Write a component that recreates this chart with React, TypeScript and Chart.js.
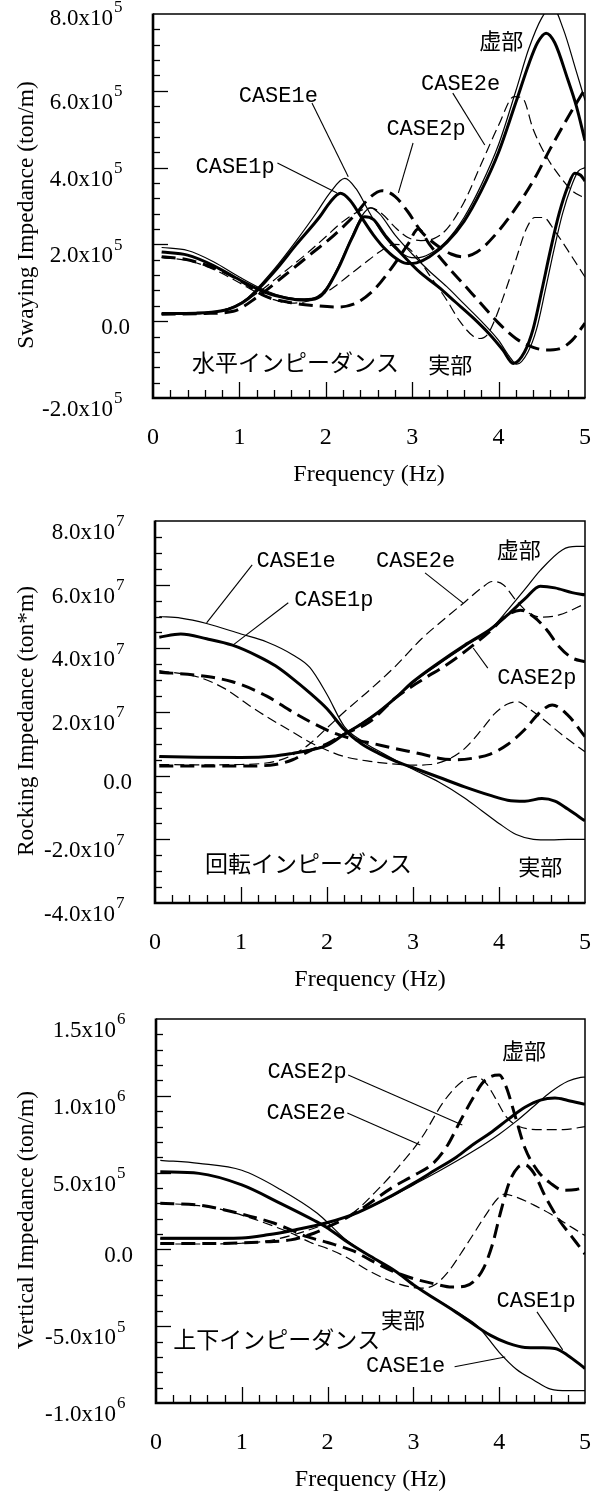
import React, { useEffect, useRef } from "react";
import { Chart, registerables } from "chart.js";

Chart.register(...registerables);

type Pt = [number, number];

// ---------------- Frequency axis ----------------
const freqMin = 0;
const freqMax = 5;
const freqMajor = [0, 1, 2, 3, 4, 5];
const freqMinorStep = 0.2;

// ---------------- Swaying impedance (x10^5 ton/m) ----------------
const sway1eRe: Pt[] = [[0.1,1.92],[0.4,1.84],[0.7,1.55],[1.0,1.15],[1.3,0.8],[1.55,0.62],[1.75,0.58],[1.9,0.64],[2.0,0.85],[2.15,1.45],[2.3,2.2],[2.42,2.75],[2.52,2.95],[2.62,2.8],[2.8,2.25],[3.0,1.75],[3.2,1.3],[3.4,0.9],[3.6,0.45],[3.8,0.0],[4.0,-0.5],[4.12,-0.9],[4.21,-1.12],[4.34,-0.8],[4.44,-0.2],[4.54,0.8],[4.64,1.85],[4.74,2.8],[4.84,3.5],[4.92,3.9],[5.0,4.0]];
const sway1eIm: Pt[] = [[0.1,0.2],[0.5,0.21],[0.8,0.28],[0.95,0.4],[1.1,0.62],[1.4,1.35],[1.66,2.1],[1.9,2.85],[2.05,3.35],[2.22,3.72],[2.35,3.45],[2.5,2.85],[2.65,2.3],[2.8,1.9],[2.95,1.68],[3.05,1.65],[3.2,1.75],[3.4,2.1],[3.6,2.7],[3.8,3.55],[4.0,4.6],[4.2,6.0],[4.35,7.1],[4.5,7.9],[4.62,8.2],[4.75,7.6],[4.9,6.5],[5.0,5.75]];
const sway1pRe: Pt[] = [[0.1,1.8],[0.4,1.72],[0.7,1.45],[1.0,1.08],[1.3,0.75],[1.55,0.6],[1.75,0.55],[1.9,0.6],[2.0,0.8],[2.15,1.4],[2.3,2.15],[2.45,2.72],[2.55,2.65],[2.7,2.2],[2.9,1.7],[3.1,1.25],[3.3,0.9],[3.5,0.5],[3.7,0.1],[3.9,-0.35],[4.05,-0.75],[4.17,-1.1],[4.3,-0.8],[4.4,-0.2],[4.5,0.8],[4.6,1.85],[4.7,2.8],[4.8,3.5],[4.88,3.85],[4.95,3.8],[5.0,3.65]];
const sway1pIm: Pt[] = [[0.1,0.2],[0.5,0.21],[0.8,0.27],[0.95,0.38],[1.1,0.58],[1.4,1.28],[1.66,2.0],[1.93,2.72],[2.05,3.1],[2.17,3.33],[2.28,3.15],[2.4,2.75],[2.55,2.25],[2.7,1.85],[2.85,1.58],[2.95,1.5],[3.05,1.52],[3.2,1.68],[3.4,2.05],[3.6,2.6],[3.8,3.4],[4.0,4.4],[4.2,5.7],[4.35,6.7],[4.45,7.25],[4.55,7.5],[4.65,7.25],[4.8,6.3],[4.9,5.6],[5.0,4.7]];
const sway2eRe: Pt[] = [[0.1,1.66],[0.4,1.58],[0.7,1.35],[1.0,1.0],[1.2,0.75],[1.4,0.56],[1.6,0.47],[1.75,0.5],[1.9,0.62],[2.1,0.9],[2.3,1.25],[2.5,1.6],[2.65,1.85],[2.8,2.0],[2.9,1.97],[3.05,1.7],[3.2,1.2],[3.4,0.55],[3.55,0.0],[3.7,-0.38],[3.78,-0.45],[3.87,-0.35],[3.95,0.0],[4.05,0.6],[4.2,1.6],[4.32,2.4],[4.42,2.7],[4.52,2.7],[4.65,2.35],[4.8,1.85],[5.0,1.15]];
const sway2eIm: Pt[] = [[0.1,0.18],[0.5,0.19],[0.8,0.28],[1.0,0.45],[1.2,0.72],[1.5,1.25],[1.8,1.8],[2.0,2.2],[2.2,2.6],[2.4,2.88],[2.52,2.95],[2.65,2.8],[2.8,2.45],[2.95,2.18],[3.1,2.1],[3.25,2.15],[3.4,2.4],[3.6,3.1],[3.8,4.1],[4.0,5.1],[4.18,5.85],[4.28,5.8],[4.4,5.0],[4.55,4.3],[4.7,3.8],[4.85,3.4],[5.0,3.2]];
const sway2pRe: Pt[] = [[0.1,1.68],[0.4,1.6],[0.8,1.3],[1.05,1.0],[1.3,0.65],[1.6,0.48],[1.9,0.4],[2.15,0.37],[2.35,0.47],[2.55,0.8],[2.75,1.35],[2.95,2.0],[3.07,2.4],[3.2,2.0],[3.4,1.45],[3.6,0.95],[3.8,0.45],[4.0,-0.05],[4.2,-0.45],[4.4,-0.68],[4.55,-0.75],[4.7,-0.72],[4.85,-0.5],[5.0,-0.05]];
const sway2pIm: Pt[] = [[0.1,0.18],[0.6,0.2],[0.93,0.26],[1.2,0.62],[1.5,1.15],[1.8,1.7],[2.1,2.25],[2.35,2.8],[2.5,3.2],[2.65,3.4],[2.8,3.25],[2.95,2.85],[3.1,2.35],[3.3,1.95],[3.45,1.75],[3.58,1.68],[3.75,1.8],[4.0,2.35],[4.2,2.95],[4.4,3.65],[4.6,4.5],[4.8,5.3],[5.0,6.05]];
const swayTicks = [8, 6, 4, 2, 0, -2];
const swayTickText = ["8.0", "6.0", "4.0", "2.0", "0.0", "-2.0"];
const swayTickExp = ["5", "5", "5", "5", "", "5"];

// ---------------- Rocking impedance (x10^7 ton*m) ----------------
const rock1eRe: Pt[] = [[0.05,5.0],[0.3,4.95],[0.6,4.78],[1.0,4.45],[1.3,4.2],[1.6,3.8],[1.8,3.4],[2.0,2.55],[2.2,1.55],[2.4,1.1],[2.65,0.7],[3.0,0.2],[3.3,-0.2],[3.6,-0.7],[3.8,-1.1],[4.0,-1.5],[4.2,-1.85],[4.4,-2.0],[4.6,-2.02],[4.8,-2.0],[5.0,-2.0]];
const rock1eIm: Pt[] = [[0.05,0.58],[0.5,0.57],[1.0,0.57],[1.4,0.62],[1.6,0.7],[1.8,0.82],[2.0,0.98],[2.2,1.32],[2.4,1.65],[2.6,2.02],[2.8,2.45],[3.0,2.92],[3.3,3.5],[3.6,4.05],[3.9,4.6],[4.1,5.2],[4.3,5.85],[4.48,6.45],[4.74,7.1],[4.9,7.2],[5.0,7.2]];
const rock1pRe: Pt[] = [[0.05,4.35],[0.3,4.45],[0.6,4.3],[0.9,4.1],[1.2,3.75],[1.4,3.45],[1.6,3.05],[1.8,2.6],[2.0,2.1],[2.2,1.45],[2.4,1.0],[2.6,0.7],[2.8,0.45],[3.0,0.25],[3.3,-0.05],[3.6,-0.35],[3.9,-0.62],[4.1,-0.77],[4.3,-0.8],[4.5,-0.72],[4.65,-0.8],[4.8,-1.05],[5.0,-1.42]];
const rock1pIm: Pt[] = [[0.05,0.6],[0.5,0.58],[1.0,0.57],[1.4,0.62],[1.6,0.7],[1.8,0.8],[2.0,0.95],[2.2,1.3],[2.4,1.62],[2.6,2.0],[2.8,2.45],[3.0,2.95],[3.3,3.55],[3.6,4.1],[3.9,4.6],[4.1,5.05],[4.3,5.55],[4.48,5.95],[4.65,5.9],[4.85,5.75],[5.0,5.68]];
const rock2eRe: Pt[] = [[0.05,3.3],[0.5,3.1],[0.8,2.75],[1.1,2.2],[1.3,1.85],[1.55,1.45],[1.8,1.05],[2.0,0.8],[2.2,0.6],[2.5,0.45],[2.8,0.36],[3.0,0.33],[3.2,0.35],[3.4,0.5],[3.6,0.85],[3.8,1.45],[3.95,1.95],[4.1,2.25],[4.22,2.32],[4.35,2.1],[4.5,1.8],[4.75,1.25],[5.0,0.75]];
const rock2eIm: Pt[] = [[0.05,0.35],[0.5,0.34],[1.0,0.35],[1.4,0.45],[1.6,0.65],[1.8,1.0],[2.0,1.5],[2.2,2.0],[2.5,2.7],[2.8,3.45],[3.1,4.3],[3.4,5.0],[3.6,5.45],[3.8,5.9],[3.92,6.1],[4.05,6.0],[4.2,5.5],[4.35,5.1],[4.5,4.98],[4.7,5.05],[5.0,5.4]];
const rock2pRe: Pt[] = [[0.05,3.25],[0.5,3.15],[0.9,2.95],[1.3,2.5],[1.6,2.0],[1.8,1.7],[2.07,1.35],[2.3,1.15],[2.55,1.0],[2.8,0.85],[3.1,0.68],[3.3,0.55],[3.5,0.5],[3.7,0.55],[3.9,0.68],[4.1,0.98],[4.3,1.45],[4.48,2.0],[4.62,2.22],[4.8,1.9],[5.0,1.23]];
const rock2pIm: Pt[] = [[0.05,0.3],[0.5,0.3],[1.0,0.3],[1.4,0.35],[1.6,0.5],[1.8,0.78],[2.0,1.0],[2.2,1.3],[2.5,1.7],[2.8,2.45],[3.1,3.0],[3.4,3.5],[3.7,4.1],[3.9,4.55],[4.1,5.05],[4.25,5.2],[4.4,5.0],[4.55,4.6],[4.7,4.05],[4.85,3.7],[5.0,3.58]];
const rockTicks = [8, 6, 4, 2, 0, -2, -4];
const rockTickText = ["8.0", "6.0", "4.0", "2.0", "0.0", "-2.0", "-4.0"];
const rockTickExp = ["7", "7", "7", "7", "", "7", "7"];

// ---------------- Vertical impedance (x10^5 ton/m) ----------------
const vert1eRe: Pt[] = [[0.05,5.8],[0.5,5.6],[1.0,5.15],[1.45,3.9],[1.88,2.35],[2.0,1.75],[2.2,0.7],[2.5,-0.45],[2.8,-1.45],[3.0,-2.3],[3.5,-4.05],[3.75,-5.0],[4.0,-6.7],[4.2,-7.8],[4.4,-8.5],[4.6,-9.1],[4.8,-9.2],[5.0,-9.2]];
const vert1eIm: Pt[] = [[0.05,0.68],[0.5,0.68],[1.0,0.72],[1.3,0.92],[1.6,1.22],[2.0,1.75],[2.35,2.4],[2.7,3.3],[3.0,4.2],[3.3,5.1],[3.7,6.4],[4.0,7.5],[4.2,8.35],[4.4,9.3],[4.6,10.25],[4.8,10.95],[4.95,11.2],[5.0,11.22]];
const vert1pRe: Pt[] = [[0.05,5.05],[0.5,4.95],[1.0,4.2],[1.45,3.0],[1.84,1.9],[2.0,1.4],[2.2,0.6],[2.5,-0.45],[2.8,-1.45],[3.0,-2.3],[3.5,-4.1],[3.9,-5.6],[4.1,-6.1],[4.3,-6.38],[4.5,-6.4],[4.65,-6.45],[4.8,-6.9],[5.0,-7.75]];
const vert1pIm: Pt[] = [[0.05,0.72],[0.5,0.72],[1.0,0.75],[1.3,0.95],[1.6,1.25],[2.0,1.75],[2.35,2.4],[2.7,3.35],[3.0,4.3],[3.25,5.15],[3.5,6.0],[3.7,6.85],[3.9,7.6],[4.1,8.45],[4.3,9.25],[4.48,9.72],[4.65,9.85],[4.8,9.7],[5.0,9.45]];
const vert2eRe: Pt[] = [[0.05,3.0],[0.5,2.85],[0.8,2.55],[1.1,2.05],[1.4,1.45],[1.6,1.0],[1.8,0.45],[2.0,0.05],[2.2,-0.45],[2.5,-1.45],[2.8,-2.2],[3.0,-2.48],[3.12,-2.52],[3.25,-2.3],[3.4,-1.5],[3.55,-0.3],[3.7,1.0],[3.85,2.3],[3.98,3.3],[4.06,3.6],[4.2,3.4],[4.4,2.9],[4.6,2.3],[4.8,1.6],[5.0,0.9]];
const vert2eIm: Pt[] = [[0.05,0.35],[0.5,0.35],[1.0,0.4],[1.3,0.55],[1.6,0.95],[2.0,1.7],[2.3,2.4],[2.55,3.7],[2.8,5.2],[3.1,7.3],[3.35,9.6],[3.55,10.85],[3.73,11.25],[3.85,10.8],[3.95,9.9],[4.08,8.65],[4.23,8.0],[4.5,7.8],[4.75,7.8],[5.0,8.0]];
const vert2pRe: Pt[] = [[0.05,3.0],[0.5,2.88],[0.8,2.57],[1.1,2.15],[1.38,1.7],[1.6,1.2],[1.76,0.83],[2.0,0.45],[2.3,-0.1],[2.5,-0.7],[2.75,-1.4],[3.0,-1.9],[3.25,-2.25],[3.45,-2.45],[3.6,-2.4],[3.72,-2.0],[3.82,-1.2],[3.92,0.3],[4.02,2.5],[4.12,4.4],[4.22,5.35],[4.3,5.5],[4.4,5.0],[4.55,3.3],[4.7,1.9],[4.85,0.8],[5.0,-0.3]];
const vert2pIm: Pt[] = [[0.05,0.38],[0.5,0.38],[1.0,0.42],[1.3,0.5],[1.57,0.62],[1.84,1.05],[2.0,1.45],[2.3,2.3],[2.76,4.05],[3.0,4.8],[3.23,5.6],[3.4,6.8],[3.55,8.4],[3.7,9.9],[3.8,10.8],[3.9,11.25],[4.0,11.35],[4.08,10.6],[4.18,8.8],[4.3,6.6],[4.45,5.1],[4.6,4.3],[4.75,3.85],[4.9,3.9],[5.0,4.05]];
const vertTicks = [15, 10, 5, 0, -5, -10];
const vertTickText = ["1.5", "1.0", "5.0", "0.0", "-5.0", "-1.0"];
const vertTickExp = ["6", "6", "5", "", "5", "6"];

// ---------------- Styles ----------------
type CaseName = "CASE1e" | "CASE1p" | "CASE2e" | "CASE2p";
const caseStyle: Record<CaseName, { width: number; dash: number[] }> = {
  CASE1e: { width: 1.2, dash: [] },
  CASE1p: { width: 3, dash: [] },
  CASE2e: { width: 1.2, dash: [10, 5] },
  CASE2p: { width: 3, dash: [14, 7] },
};

const SERIF = '"Liberation Serif", "Times New Roman", serif';
const MONO = '"Liberation Mono", monospace';
const JP = '"Noto Sans CJK JP", sans-serif';

type Note = { text: string; f: number; v: number; kind: "case" | "jp" | "jpl" };
type Leader = [number, number, number, number];

type PanelCfg = {
  top: number;
  height: number;
  pad: { left: number; right: number; top: number; bottom: number };
  yMin: number;
  yMax: number;
  yMinorStep: number;
  ticks: number[];
  tickText: string[];
  tickExp: string[];
  yTitle: string;
  series: Record<CaseName, [Pt[], Pt[]]>;
  notes: Note[];
  leaders: Leader[];
};

const panels: PanelCfg[] = [
  {
    top: 0,
    height: 495,
    pad: { left: 153, right: 17, top: 14, bottom: 97 },
    yMin: -2, yMax: 8, yMinorStep: 0.4,
    ticks: swayTicks, tickText: swayTickText, tickExp: swayTickExp,
    yTitle: "Swaying Impedance (ton/m)",
    series: {
      CASE1e: [sway1eRe, sway1eIm],
      CASE1p: [sway1pRe, sway1pIm],
      CASE2e: [sway2eRe, sway2eIm],
      CASE2p: [sway2pRe, sway2pIm],
    },
    notes: [
      { text: "CASE1e", f: 1.45, v: 5.87, kind: "case" },
      { text: "CASE2e", f: 3.56, v: 6.18, kind: "case" },
      { text: "CASE2p", f: 3.16, v: 5.0, kind: "case" },
      { text: "CASE1p", f: 0.95, v: 4.01, kind: "case" },
      { text: "虚部", f: 4.03, v: 7.3, kind: "jp" },
      { text: "水平インピーダンス", f: 0.45, v: -1.06, kind: "jpl" },
      { text: "実部", f: 3.44, v: -1.14, kind: "jp" },
    ],
    leaders: [
      [1.84, 5.68, 2.26, 3.76],
      [3.47, 5.94, 3.84, 4.59],
      [3.01, 4.64, 2.84, 3.34],
      [1.44, 4.12, 2.13, 3.34],
    ],
  },
  {
    top: 495,
    height: 500,
    pad: { left: 155, right: 17, top: 26, bottom: 92 },
    yMin: -4, yMax: 8, yMinorStep: 0.5,
    ticks: rockTicks, tickText: rockTickText, tickExp: rockTickExp,
    yTitle: "Rocking Impedance (ton*m)",
    series: {
      CASE1e: [rock1eRe, rock1eIm],
      CASE1p: [rock1pRe, rock1pIm],
      CASE2e: [rock2eRe, rock2eIm],
      CASE2p: [rock2pRe, rock2pIm],
    },
    notes: [
      { text: "CASE1e", f: 1.64, v: 6.74, kind: "case" },
      { text: "CASE2e", f: 3.03, v: 6.74, kind: "case" },
      { text: "虚部", f: 4.23, v: 7.09, kind: "jp" },
      { text: "CASE1p", f: 2.08, v: 5.52, kind: "case" },
      { text: "CASE2p", f: 4.44, v: 3.07, kind: "case" },
      { text: "回転インピーダンス", f: 0.58, v: -2.74, kind: "jpl" },
      { text: "実部", f: 4.48, v: -2.87, kind: "jp" },
    ],
    leaders: [
      [1.13, 6.62, 0.6, 4.8],
      [3.14, 6.37, 3.58, 5.43],
      [1.55, 5.43, 0.91, 4.11],
      [3.87, 3.38, 3.7, 4.01],
    ],
  },
  {
    top: 995,
    height: 500,
    pad: { left: 156, right: 17, top: 24, bottom: 92 },
    yMin: -10, yMax: 15, yMinorStep: 1,
    ticks: vertTicks, tickText: vertTickText, tickExp: vertTickExp,
    yTitle: "Vertical Impedance (ton/m)",
    series: {
      CASE1e: [vert1eRe, vert1eIm],
      CASE1p: [vert1pRe, vert1pIm],
      CASE2e: [vert2eRe, vert2eIm],
      CASE2p: [vert2pRe, vert2pIm],
    },
    notes: [
      { text: "虚部", f: 4.29, v: 12.92, kind: "jp" },
      { text: "CASE2p", f: 1.76, v: 11.55, kind: "case" },
      { text: "CASE2e", f: 1.75, v: 8.88, kind: "case" },
      { text: "上下インピーダンス", f: 0.2, v: -5.83, kind: "jpl" },
      { text: "実部", f: 2.88, v: -4.6, kind: "jp" },
      { text: "CASE1p", f: 4.43, v: -3.35, kind: "case" },
      { text: "CASE1e", f: 2.91, v: -7.58, kind: "case" },
    ],
    leaders: [
      [2.24, 11.35, 3.57, 8.1],
      [2.23, 8.88, 3.08, 6.8],
      [4.44, -4.07, 4.74, -6.54],
      [3.48, -7.64, 4.07, -7.0],
    ],
  },
];

const caseOrder: CaseName[] = ["CASE1e", "CASE2e", "CASE1p", "CASE2p"];

function makeDecor(cfg: PanelCfg) {
  return {
    id: "decor",
    afterDraw(chart: any) {
      const { ctx, chartArea: a, scales } = chart;
      const xs = scales.x;
      const ys = scales.y;
      ctx.save();
      ctx.strokeStyle = "#000";
      ctx.fillStyle = "#000";
      ctx.setLineDash([]);

      // frame
      ctx.lineWidth = 1.5;
      ctx.beginPath();
      ctx.moveTo(a.left, a.top);
      ctx.lineTo(a.right, a.top);
      ctx.lineTo(a.right, a.bottom);
      ctx.stroke();
      ctx.lineWidth = 2.6;
      ctx.beginPath();
      ctx.moveTo(a.left, a.top - 0.5);
      ctx.lineTo(a.left, a.bottom);
      ctx.lineTo(a.right + 0.5, a.bottom);
      ctx.stroke();

      // y ticks (inside)
      ctx.lineWidth = 1.3;
      const nY = Math.round((cfg.yMax - cfg.yMin) / cfg.yMinorStep);
      for (let i = 1; i < nY; i++) {
        const v = cfg.yMin + i * cfg.yMinorStep;
        const y = Math.round(ys.getPixelForValue(v)) + 0.5;
        const major = cfg.ticks.some((t) => Math.abs(t - v) < 1e-6);
        const len = major ? 15 : 7;
        ctx.beginPath();
        ctx.moveTo(a.left, y);
        ctx.lineTo(a.left + len, y);
        ctx.stroke();
      }
      // x ticks (inside)
      const nX = Math.round((freqMax - freqMin) / freqMinorStep);
      for (let i = 1; i < nX; i++) {
        const f = freqMin + i * freqMinorStep;
        const x = Math.round(xs.getPixelForValue(f)) + 0.5;
        const major = freqMajor.some((t) => Math.abs(t - f) < 1e-6);
        const len = major ? 16 : 8;
        ctx.beginPath();
        ctx.moveTo(x, a.bottom);
        ctx.lineTo(x, a.bottom - len);
        ctx.stroke();
      }

      // x tick labels
      ctx.font = `24px ${SERIF}`;
      ctx.textAlign = "center";
      ctx.textBaseline = "middle";
      freqMajor.forEach((f) => {
        ctx.fillText(String(f), xs.getPixelForValue(f), a.bottom + 40);
      });
      // x title
      ctx.fillText("Frequency (Hz)", (a.left + a.right) / 2, a.bottom + 77);

      // y tick labels with superscript exponent
      cfg.ticks.forEach((t, i) => {
        const y = ys.getPixelForValue(t);
        const txt = cfg.tickText[i];
        const exp = cfg.tickExp[i];
        ctx.textBaseline = "middle";
        if (exp) {
          const off = y - 12 < 8 ? 5 : 12;
          ctx.font = `23px ${SERIF}`;
          ctx.textAlign = "right";
          ctx.fillText(txt + "x10", a.left - 40, y + off);
          ctx.font = `17px ${SERIF}`;
          ctx.textAlign = "left";
          ctx.fillText(exp, a.left - 39, y + off - 11);
        } else {
          ctx.font = `23px ${SERIF}`;
          ctx.textAlign = "right";
          ctx.fillText(txt, a.left - 23, y + 7);
        }
      });

      // y title
      ctx.save();
      ctx.translate(27, (a.top + a.bottom) / 2 + 9);
      ctx.rotate(-Math.PI / 2);
      ctx.font = `23.5px ${SERIF}`;
      ctx.textAlign = "center";
      ctx.textBaseline = "middle";
      ctx.fillText(cfg.yTitle, 0, 0);
      ctx.restore();

      // leader lines
      ctx.lineWidth = 1.1;
      cfg.leaders.forEach(([f1, v1, f2, v2]) => {
        ctx.beginPath();
        ctx.moveTo(xs.getPixelForValue(f1), ys.getPixelForValue(v1));
        ctx.lineTo(xs.getPixelForValue(f2), ys.getPixelForValue(v2));
        ctx.stroke();
      });

      // notes
      cfg.notes.forEach((n) => {
        const x = xs.getPixelForValue(n.f);
        const y = ys.getPixelForValue(n.v);
        ctx.textBaseline = "middle";
        if (n.kind === "case") {
          ctx.font = `22px ${MONO}`;
          ctx.textAlign = "center";
        } else if (n.kind === "jp") {
          ctx.font = `22px ${JP}`;
          ctx.textAlign = "center";
        } else {
          ctx.font = `23px ${JP}`;
          ctx.textAlign = "left";
        }
        ctx.fillText(n.text, x, y);
      });

      ctx.restore();
    },
  };
}

function Panel({ cfg }: { cfg: PanelCfg }) {
  const ref = useRef<HTMLCanvasElement | null>(null);
  useEffect(() => {
    const canvas = ref.current;
    if (!canvas) return;
    const datasets: any[] = [];
    caseOrder.forEach((c) => {
      const st = caseStyle[c];
      cfg.series[c].forEach((pts, k) => {
        datasets.push({
          label: `${c}-${k === 0 ? "real" : "imag"}`,
          data: pts.map(([x, y]) => ({ x, y })),
          borderColor: "#000",
          backgroundColor: "#000",
          borderWidth: st.width,
          borderDash: st.dash,
          pointRadius: 0,
          fill: false,
          cubicInterpolationMode: "monotone",
          borderCapStyle: "butt",
          borderJoinStyle: "round",
        });
      });
    });
    const chart = new Chart(canvas, {
      type: "line",
      data: { datasets },
      options: {
        animation: false,
        responsive: false,
        maintainAspectRatio: false,
        devicePixelRatio: 1,
        events: [],
        layout: { padding: cfg.pad },
        plugins: {
          legend: { display: false },
          tooltip: { enabled: false },
        },
        scales: {
          x: { type: "linear", min: freqMin, max: freqMax, display: false },
          y: { type: "linear", min: cfg.yMin, max: cfg.yMax, display: false },
        },
      },
      plugins: [makeDecor(cfg)],
    } as any);
    let alive = true;
    const fonts = (document as any).fonts;
    if (fonts && fonts.load) {
      Promise.all([
        fonts.load(`23px ${SERIF}`),
        fonts.load(`22px ${MONO}`),
        fonts.load(`23px ${JP}`, "水平インピーダンス実部虚部回転上下"),
      ])
        .then(() => {
          if (alive) chart.update();
        })
        .catch(() => {});
    }
    return () => {
      alive = false;
      chart.destroy();
    };
  }, [cfg]);
  return (
    <canvas
      ref={ref}
      width={602}
      height={cfg.height}
      style={{ position: "absolute", left: 0, top: cfg.top, width: 602, height: cfg.height }}
    />
  );
}

export default function App() {
  return (
    <div style={{ position: "absolute", left: 0, top: 0, width: 602, height: 1495, background: "#fff" }}>
      {panels.map((p, i) => (
        <Panel key={i} cfg={p} />
      ))}
    </div>
  );
}
